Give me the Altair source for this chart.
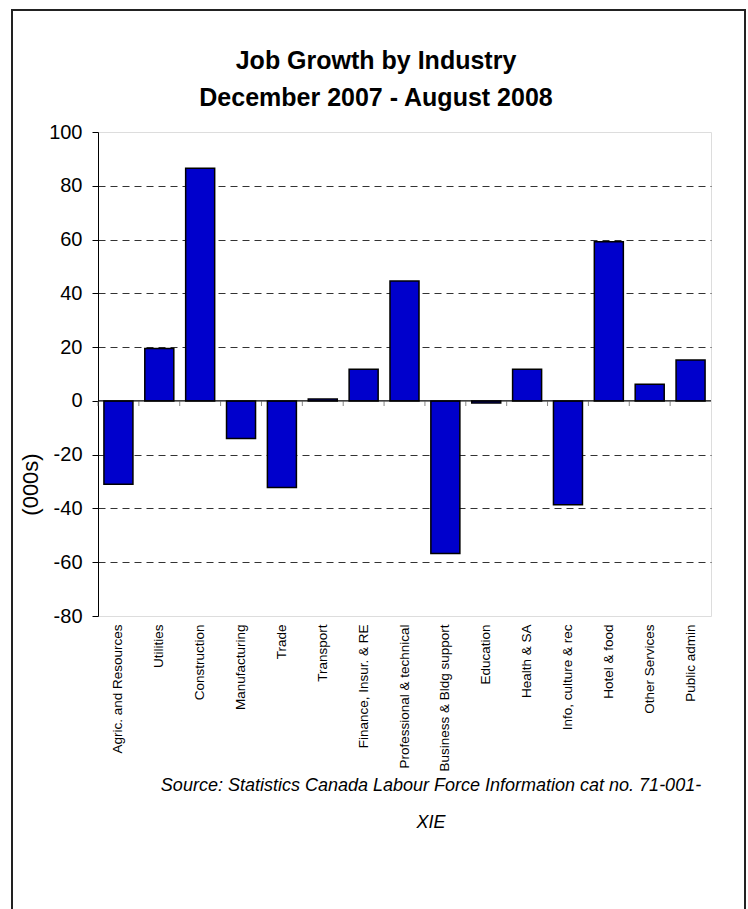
import altair as alt
import pandas as pd

industries = [
    "Agric. and Resources", "Utilities", "Construction", "Manufacturing", "Trade",
    "Transport", "Finance, Insur. & RE", "Professional & technical",
    "Business & Bldg support", "Education", "Health & SA", "Info, culture & rec",
    "Hotel & food", "Other Services", "Public admin",
]
growth = [-31, 19.5, 86.5, -14, -32.2, 0.7, 11.8, 44.6, -56.8, -0.8, 11.8, -38.6, 59.2, 6.2, 15.2]
y_ticks = [-80, -60, -40, -20, 0, 20, 40, 60, 80, 100]
title_lines = ["Job Growth by Industry", "December 2007 - August 2008"]
source_lines = ["Source: Statistics Canada Labour Force Information cat no. 71-001-", "XIE"]
axis_title = "(000s)"

df = pd.DataFrame({"industry": industries, "growth": growth})
one = pd.DataFrame({"k": [0]})

W, H = 613, 484
FONT = "Liberation Sans"

xenc = alt.X(
    "industry:N", sort=industries,
    scale=alt.Scale(paddingInner=0, paddingOuter=0),
    axis=alt.Axis(
        orient="bottom", labelAngle=-90, labelFontSize=13.5, labelColor="black",
        labelPadding=8, domain=False, ticks=False, title=None, labelFont=FONT,
        labelLimit=300,
    ),
)
yscale = alt.Scale(domain=[-80, 100], nice=False, zero=False)

bars = alt.Chart(df).mark_bar(
    width=alt.RelativeBandSize(0.71), color="#0000CC", stroke="black", strokeWidth=1.5
).encode(
    x=xenc,
    y=alt.Y(
        "growth:Q", scale=yscale,
        axis=alt.Axis(
            values=y_ticks, labelFontSize=20, labelColor="black", labelFont=FONT,
            labelExpr="datum.value < 0 ? '-' + abs(datum.value) : '' + datum.value",
            tickColor="black", tickSize=6, domainColor="black", domainWidth=1,
            labelPadding=10,
            grid=True, gridColor="#333333", gridDash=[7, 5], gridWidth=1,
            gridOpacity={"condition": {"test": "datum.value === 100 || datum.value === -80 || datum.value === 0", "value": 0}, "value": 1},
            title=axis_title, titleFontSize=22, titleFontWeight="normal", titleFont=FONT,
            titleColor="black", titleX=-68, titleY=352, titleAngle=-90,
            titleAlign="center", titleBaseline="middle",
        ),
    ),
)

zero_line = alt.Chart(one).mark_rule(color="black", strokeWidth=1.2).encode(
    y=alt.datum(0, scale=yscale), x=alt.value(0), x2=alt.value(W)
)

ticks = alt.Chart(df).mark_tick(
    orient="vertical", size=5, yOffset=2.5, color="#555555", thickness=1
).encode(
    x=alt.X("industry:N", sort=industries, bandPosition=0),
    y=alt.datum(0, scale=yscale),
)

title = alt.Chart(one).mark_text(
    font=FONT, fontSize=25, fontWeight="bold", color="black",
    align="center", baseline="alphabetic", lineHeight=37,
).encode(
    x=alt.value(278), y=alt.value(-63), text=alt.value(title_lines)
)

source = alt.Chart(one).mark_text(
    font=FONT, fontSize=18, fontStyle="italic", color="black",
    align="center", baseline="alphabetic", lineHeight=37,
).encode(
    x=alt.value(333), y=alt.value(659), text=alt.value(source_lines)
)

frame = alt.Chart(one).mark_rect(
    fillOpacity=0, stroke="#222222", strokeWidth=2
).encode(
    x=alt.value(-86), x2=alt.value(647), y=alt.value(-122), y2=alt.value(800)
)

chart = alt.layer(bars, zero_line, ticks, title, source, frame).properties(
    width=W, height=H,
    autosize=alt.AutoSizeParams(type="none"),
    padding={"left": 98, "top": 132, "right": 37, "bottom": 293},
).configure_view(stroke="#888888", strokeWidth=1.5).configure(background="white")

chart.save("out.html", embed_options={"renderer": "svg", "actions": False})
